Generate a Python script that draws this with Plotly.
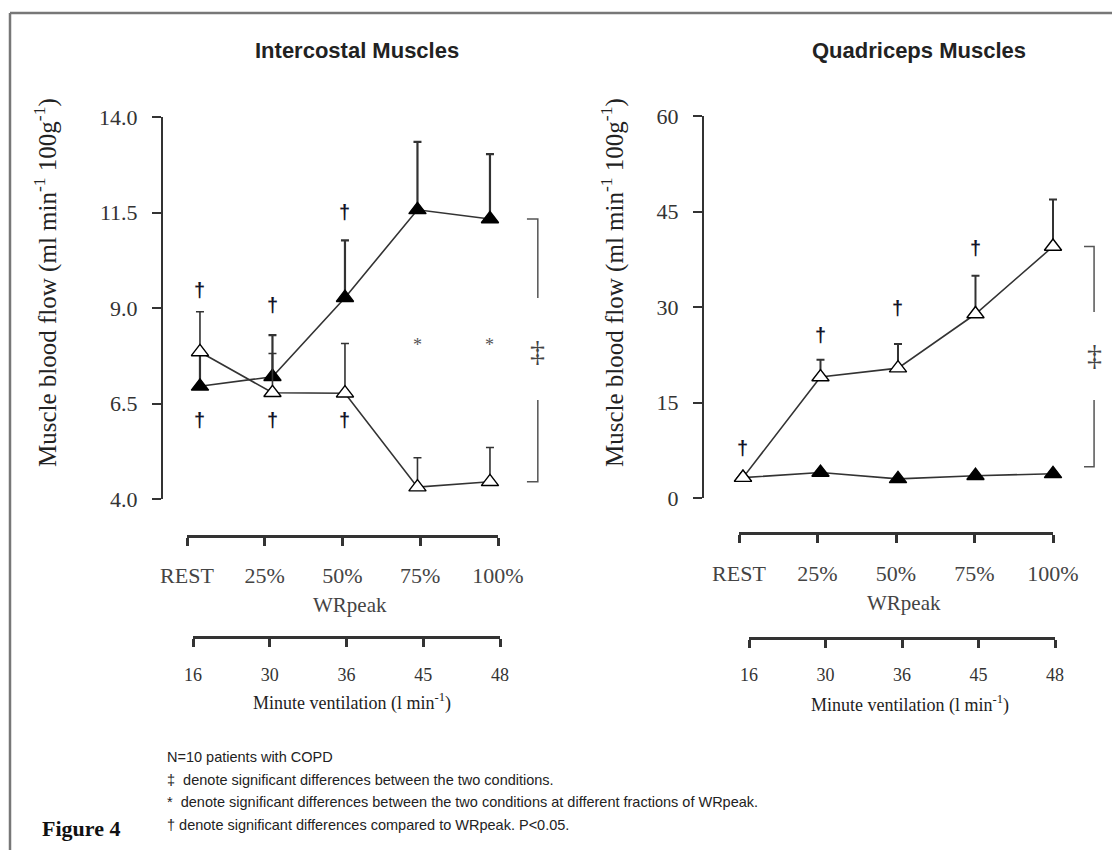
import plotly.graph_objects as go

# ---------------- data ----------------
stages = ["REST", "25%", "50%", "75%", "100%"]
ventilation = ["16", "30", "36", "45", "48"]
idx = [0, 1, 2, 3, 4]

# Intercostal muscles (ml min-1 100g-1)
ic_filled = [6.95, 7.2, 9.27, 11.57, 11.33]
ic_filled_err = [0.95, 1.09, 1.5, 1.78, 1.7]
ic_open = [7.85, 6.78, 6.77, 4.31, 4.45]
ic_open_err = [1.05, 1.03, 1.3, 0.77, 0.9]

# Quadriceps muscles (ml min-1 100g-1)
qd_open = [3.2, 19.0, 20.4, 28.9, 39.5]
qd_open_err = [0.0, 2.7, 3.8, 6.0, 7.4]
qd_filled = [3.2, 4.0, 3.0, 3.5, 3.8]

ic_ticks = [4.0, 6.5, 9.0, 11.5, 14.0]
qd_ticks = [0, 15, 30, 45, 60]

# significance marks (category index, y value)
ic_dag_top = [(0, 9.47), (1, 9.08), (2, 11.51)]
ic_dag_bottom = [(0, 6.07), (1, 6.07), (2, 6.07)]
ic_stars = [(3, 8.03), (4, 8.03)]
qd_dag = [(0, 7.8), (1, 25.6), (2, 29.8), (3, 39.2)]

footnotes = [
    "N=10 patients with COPD",
    "‡  denote significant differences between the two conditions.",
    "*  denote significant differences between the two conditions at different fractions of WRpeak.",
    "† denote significant differences compared to WRpeak. P<0.05.",
]

# ---------------- layout helpers ----------------
W, H = 1112, 850


def px(x):
    return x / W


def py(y):
    return 1 - y / H


SERIF = "Liberation Serif, Times New Roman, serif"
SANS = "Liberation Sans, Arial, sans-serif"
LINE = "#333333"

fig = go.Figure()


def add_series(xa, ya, y, err, filled, errwidth):
    fig.add_trace(go.Scatter(
        x=idx, y=y, xaxis=xa, yaxis=ya, mode="lines+markers",
        line=dict(color=LINE, width=1.6),
        marker=dict(symbol="triangle-up", size=15,
                    color="black" if filled else "white",
                    line=dict(color="black", width=1.4)),
        error_y=dict(type="data", symmetric=False, array=err,
                     arrayminus=[0] * len(err), color=LINE,
                     thickness=errwidth, width=4,
                     visible=any(e > 0 for e in err)),
        cliponaxis=False, hoverinfo="skip", showlegend=False))


# left panel
add_series("x", "y", ic_filled, ic_filled_err, True, 2.2)
add_series("x", "y", ic_open, ic_open_err, False, 1.6)
# right panel
add_series("x2", "y2", qd_filled, [0] * 5, True, 2.0)
add_series("x2", "y2", qd_open, qd_open_err, False, 2.0)

# invisible traces for the secondary category axes
for n in range(3, 7):
    fig.add_trace(go.Scatter(x=idx, y=[0.5] * 5, xaxis=f"x{n}", yaxis=f"y{n}",
                             mode="markers", marker=dict(opacity=0),
                             hoverinfo="skip", showlegend=False))

hidden_x = dict(showline=False, showticklabels=False, showgrid=False,
                zeroline=False, ticks="")
yax_common = dict(showline=True, linewidth=2, linecolor=LINE, ticks="outside",
                  ticklen=9, tickwidth=2, tickcolor=LINE, showgrid=False,
                  zeroline=False, ticklabelstandoff=10,
                  tickfont=dict(family=SERIF, size=22, color="#333"))


def cat_axis(x0, x1, labels, size, color, standoff):
    return dict(domain=[px(x0), px(x1)], range=[0, 4], tickmode="array",
                tickvals=idx, ticktext=labels, showline=True, linewidth=3,
                linecolor=LINE, ticks="outside", ticklen=8, tickwidth=2.5,
                tickcolor=LINE, showgrid=False, zeroline=False,
                ticklabelstandoff=standoff,
                tickfont=dict(family=SERIF, size=size, color=color))


def band(y):
    return dict(domain=[py(y), py(y) + 0.01], range=[0, 1], visible=False)


fig.update_layout(
    width=W, height=H, margin=dict(l=0, r=0, t=0, b=0),
    paper_bgcolor="white", plot_bgcolor="rgba(0,0,0,0)",
    template="none", hovermode=False, showlegend=False,
    xaxis=dict(domain=[px(163), px(560)], range=[-0.51, 4.966], anchor="y", **hidden_x),
    yaxis=dict(domain=[py(499), py(117)], range=[4, 14], anchor="x",
               tickvals=ic_ticks, ticktext=[f"{v:.1f}" for v in ic_ticks], **yax_common),
    xaxis2=dict(domain=[px(704), px(1105)], range=[-0.503, 4.671], anchor="y2", **hidden_x),
    yaxis2=dict(domain=[py(498), py(116)], range=[0, 60], anchor="x2",
                tickvals=qd_ticks, ticktext=[str(v) for v in qd_ticks], **yax_common),
    xaxis3=dict(anchor="y3", **cat_axis(187, 498, stages, 22, "#444", 11)),
    yaxis3=dict(anchor="x3", **band(535)),
    xaxis4=dict(anchor="y4", **cat_axis(739, 1053, stages, 22, "#444", 12)),
    yaxis4=dict(anchor="x4", **band(532)),
    xaxis5=dict(anchor="y5", **cat_axis(193, 500, ventilation, 18, "#333", 12)),
    yaxis5=dict(anchor="x5", **band(636)),
    xaxis6=dict(anchor="y6", **cat_axis(749, 1055, ventilation, 18, "#333", 11)),
    yaxis6=dict(anchor="x6", **band(637)),
)

ann = []


def text(x, y, s, size, family=SERIF, color="#333", xanchor="center", angle=0,
         weight="normal", xref="paper", yref="paper"):
    ann.append(dict(x=x, y=y, xref=xref, yref=yref, text=s, showarrow=False,
                    xanchor=xanchor, yanchor="middle", textangle=angle,
                    font=dict(family=family, size=size, color=color, weight=weight)))


# panel titles
text(px(357), py(50), "Intercostal Muscles", 22, SANS, "#222", weight="bold")
text(px(919), py(50), "Quadriceps Muscles", 22, SANS, "#222", weight="bold")
# y titles
ytitle = "Muscle blood flow (ml min<sup>-1</sup> 100g<sup>-1</sup>)"
text(px(45), py(283), ytitle, 25, SERIF, "#222", angle=-90)
text(px(612), py(283), ytitle, 25, SERIF, "#222", angle=-90)
# secondary axis titles
text(px(350), py(605), "WRpeak", 21, SERIF, "#444")
text(px(904), py(603), "WRpeak", 21, SERIF, "#444")
text(px(352), py(702), "Minute ventilation (l min<sup>-1</sup>)", 18, SERIF, "#222")
text(px(910), py(704), "Minute ventilation (l min<sup>-1</sup>)", 18, SERIF, "#222")
# footnotes
for i, s in enumerate(footnotes):
    text(px(165), py(757 + 22.5 * i), s, 14.5, SANS, "#222", xanchor="left")
text(px(40), py(828), "Figure 4", 22, SERIF, "#111", xanchor="left", weight="bold")

# significance marks
DAG = "#141428"
for (i, v) in ic_dag_top + ic_dag_bottom:
    text(i, v, "†", 20, SANS, DAG, weight="bold", xref="x", yref="y")
for (i, v) in ic_stars:
    text(i, v, "*", 18, SERIF, "#555", xref="x", yref="y")
for (i, v) in qd_dag:
    text(i, v, "†", 20, SANS, DAG, weight="bold", xref="x2", yref="y2")
text(4.66, 7.9, "‡", 30, SERIF, "#444", xref="x", yref="y")
text(4.53, 22.5, "‡", 30, SERIF, "#444", xref="x2", yref="y2")

fig.update_layout(annotations=ann)

# brackets (built from the end values of each series)
BR = "#555555"
shapes = [
    dict(type="path", xref="x", yref="y", line=dict(color=BR, width=1.5),
         path=f"M 4.51 {ic_filled[-1]} L 4.66 {ic_filled[-1]} L 4.66 9.26"),
    dict(type="path", xref="x", yref="y", line=dict(color=BR, width=1.5),
         path=f"M 4.66 6.59 L 4.66 {ic_open[-1]} L 4.51 {ic_open[-1]}"),
    dict(type="path", xref="x2", yref="y2", line=dict(color=BR, width=1.5),
         path=f"M 4.40 {qd_open[-1]} L 4.53 {qd_open[-1]} L 4.53 29.2"),
    dict(type="path", xref="x2", yref="y2", line=dict(color=BR, width=1.5),
         path=f"M 4.53 15.4 L 4.53 {qd_filled[-1] + 1.1} L 4.40 {qd_filled[-1] + 1.1}"),
    # figure frame
    dict(type="line", xref="paper", yref="paper", x0=px(10), x1=1, y0=py(13), y1=py(13),
         line=dict(color="#777", width=2.5)),
    dict(type="line", xref="paper", yref="paper", x0=px(10), x1=px(10), y0=py(13), y1=0,
         line=dict(color="#777", width=2.5)),
]
fig.update_layout(shapes=shapes)

fig.write_html("out.html", config={"displayModeBar": False},
               post_script="document.body.style.margin='0';document.body.style.overflow='hidden';")
